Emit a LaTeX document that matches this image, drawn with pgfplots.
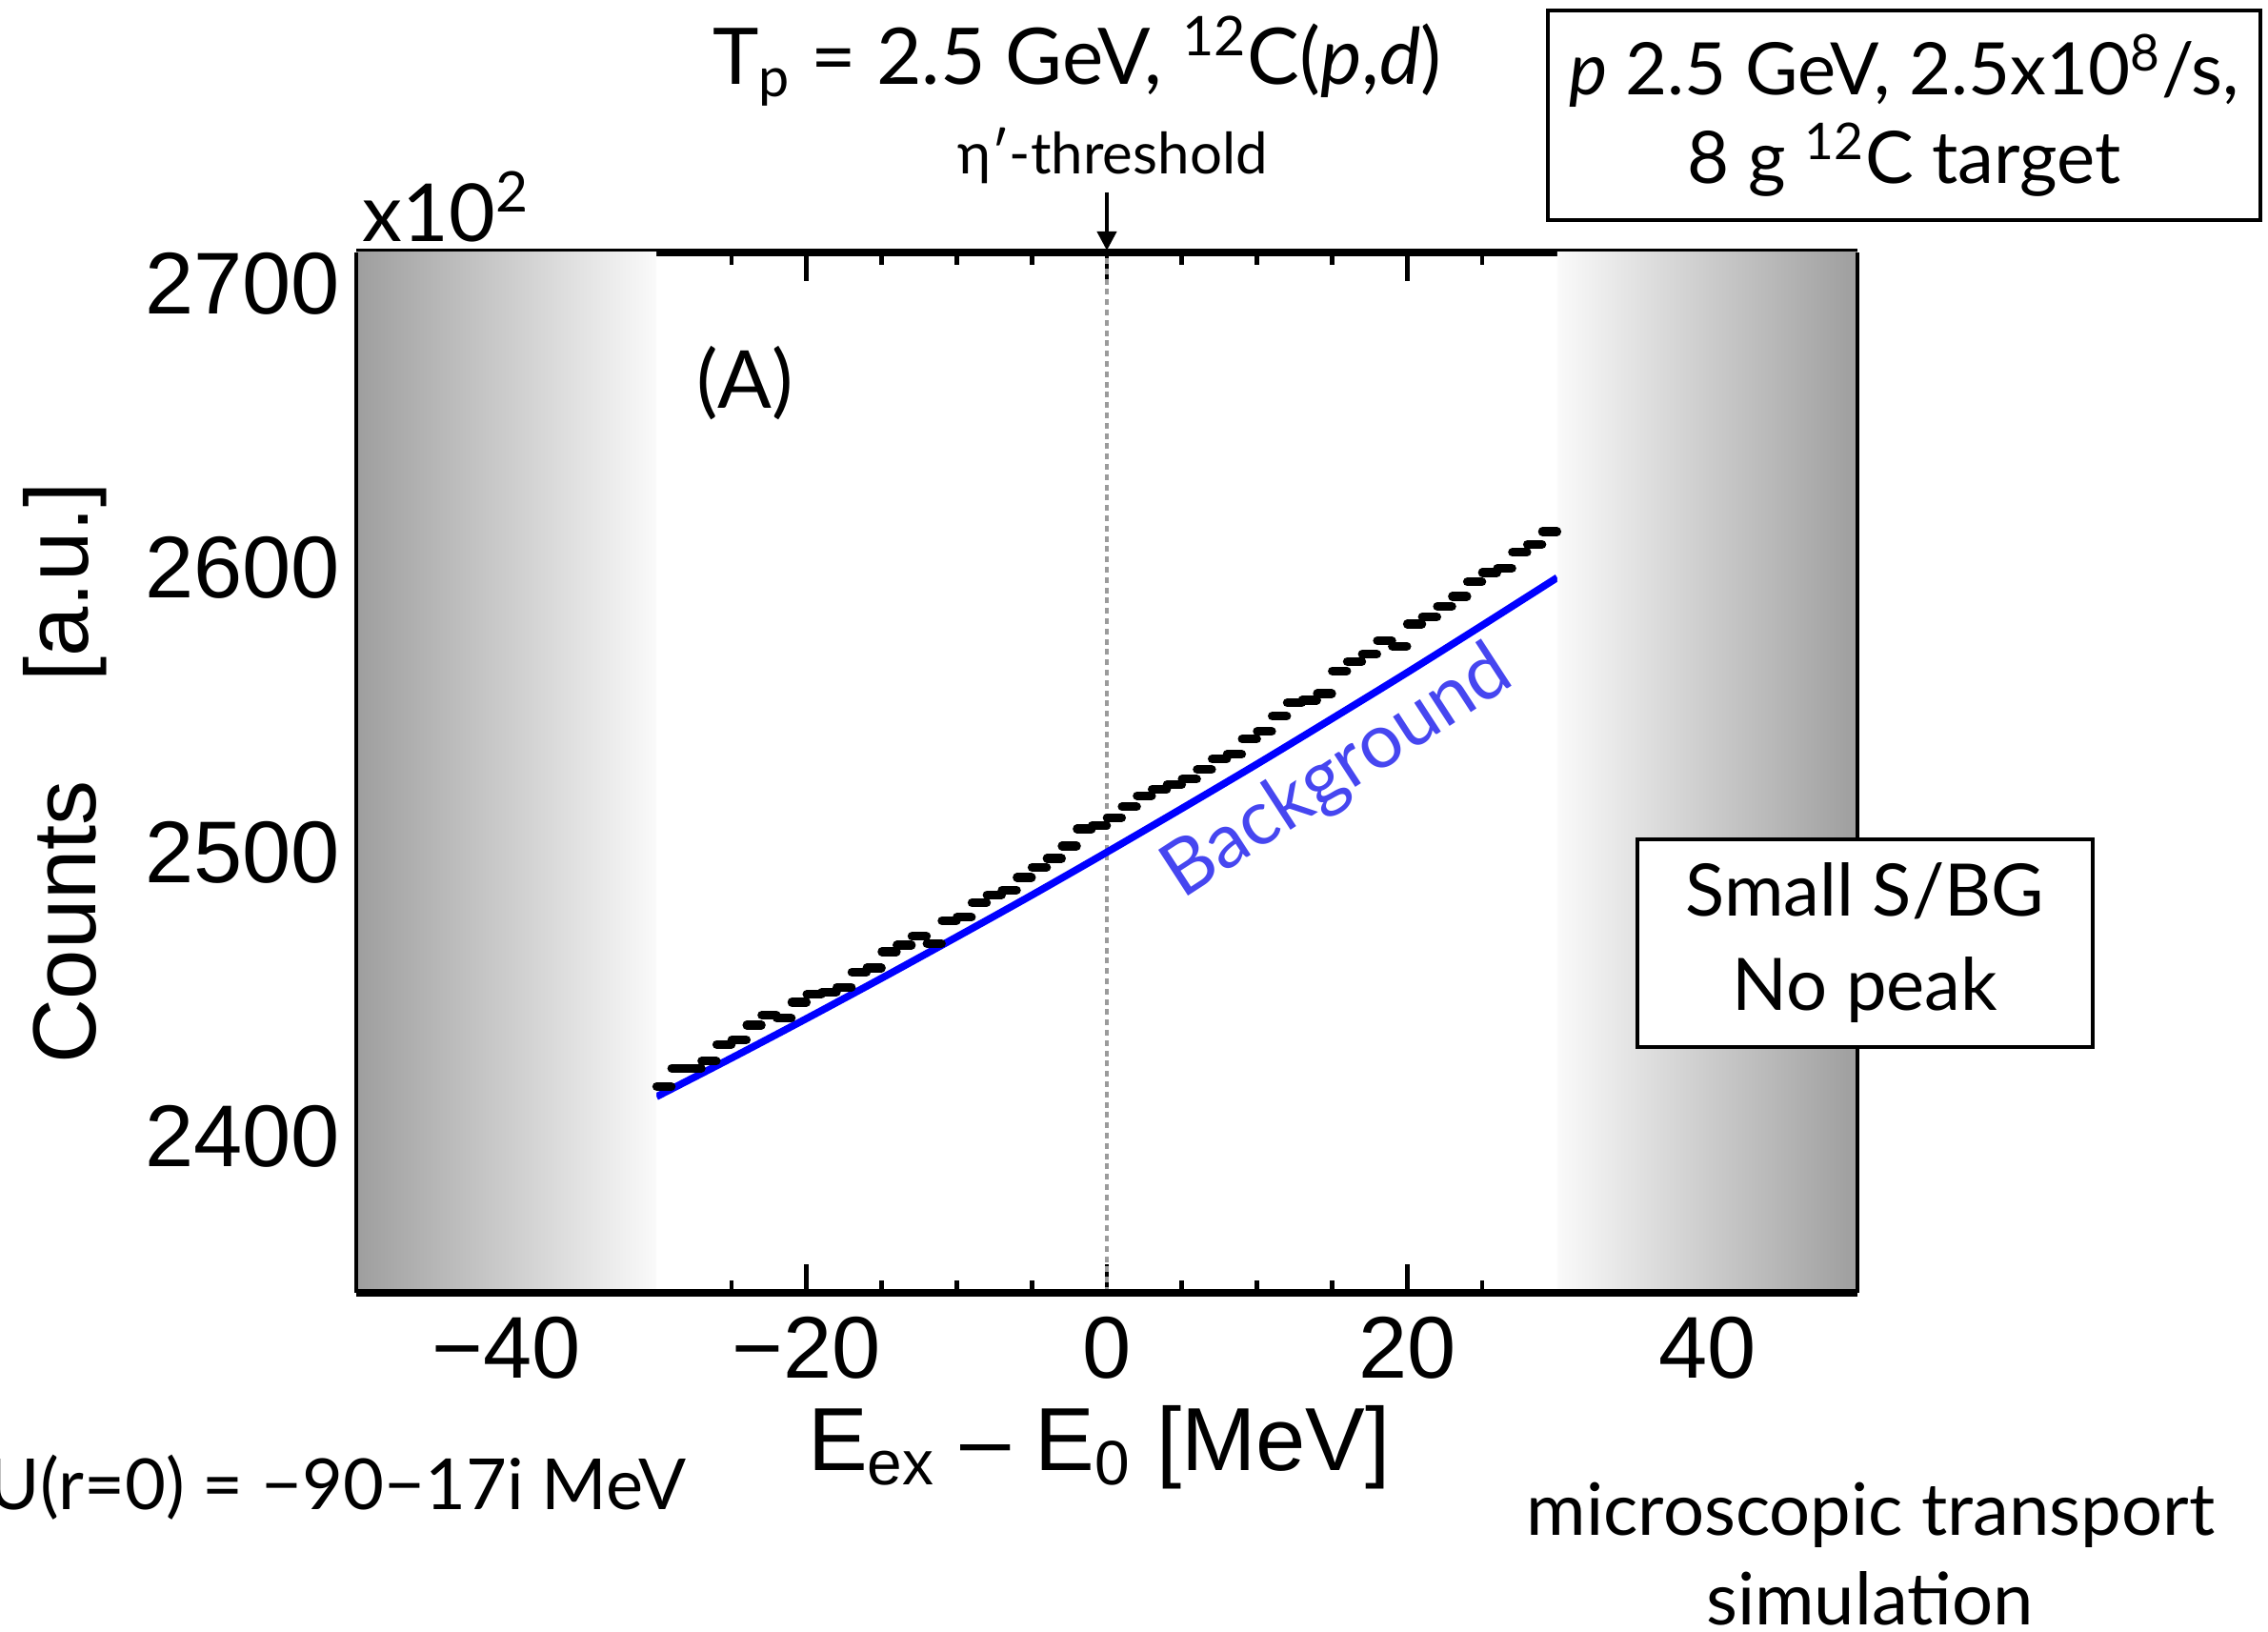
\documentclass[border=0pt]{standalone}
\usepackage{pgfplots}
\pgfplotsset{compat=1.18}
\usetikzlibrary{arrows.meta}
\usepackage{fontspec}
\setmainfont{Lato}
\newfontfamily\arial{Liberation Sans}
\definecolor{edgegray}{RGB}{158,158,158}
\definecolor{bgblue}{RGB}{0,0,255}
\definecolor{txtblue}{RGB}{70,70,240}
\definecolor{dotgray}{RGB}{155,155,155}
\begin{document}
\begin{tikzpicture}
\begin{axis}[
  at={(0pt,0pt)}, anchor=south west,
  scale only axis, width=394pt, height=273pt,
  xmin=-50, xmax=50, ymin=2345, ymax=2711,
  clip=false,
  axis line style={draw=none},
  xtick={-20,0,20}, xticklabels={−20,0,20},
  extra x ticks={-40,40}, extra x tick labels={−40,40},
  extra x tick style={major tick length=0pt},
  minor xtick={-25,-15,-10,-5,5,10,15,25},
  xtick pos=both, tick align=inside,
  ytick={2400,2500,2600,2700}, yticklabels={2400,2500,2600,2700},
  ytick style={draw=none},
  xtick style={black, line width=1.2pt},
  major tick length=7.5pt, minor tick length=3.3pt,
  tick label style={font=\arial\fontsize{23}{23}\selectfont},
  xticklabel style={anchor=north, inner sep=0pt, yshift=-6pt},
  yticklabel style={anchor=east, inner sep=0pt, xshift=-4pt},
]
\draw[dotgray, line width=1pt, dash pattern=on 1.5pt off 1.2pt] (axis cs:0,2345) -- (axis cs:0,2711);
\draw[line width=2.1pt] (rel axis cs:0,1) -- (rel axis cs:1,1);
\addplot[bgblue, line width=1.9pt, smooth] coordinates {
(-30,2414.0) (-25,2427.6) (-20,2441.5) (-15,2455.7) (-10,2470.2) (-5,2484.9)
(0,2500.0) (5,2515.4) (10,2531.0) (15,2547.0) (20,2563.2) (25,2579.8) (30,2596.6)};
\addplot[black, line width=2.3pt, only marks, mark=-, mark size=1.9pt,
  mark options={solid, line width=2.3pt, line cap=round}] coordinates {
(-29.5,2417.6) (-28.5,2424.0) (-27.5,2424.0) (-26.5,2426.5) (-25.5,2432.4)
(-24.5,2434.0) (-23.5,2439.2) (-22.5,2442.7) (-21.5,2441.6) (-20.5,2447.2)
(-19.5,2450.0) (-18.5,2450.8) (-17.5,2452.5) (-16.5,2457.8) (-15.5,2459.3)
(-14.5,2465.0) (-13.5,2467.3) (-12.5,2470.4) (-11.5,2467.9) (-10.5,2475.9)
(-9.5,2477.1) (-8.5,2482.2) (-7.5,2485.0) (-6.5,2486.7) (-5.5,2491.1)
(-4.5,2494.7) (-3.5,2497.8) (-2.5,2502.2) (-1.5,2508.2) (-0.5,2509.3)
(0.5,2512.2) (1.5,2516.0) (2.5,2519.9) (3.5,2522.1) (4.5,2523.8)
(5.5,2525.7) (6.5,2529.1) (7.5,2532.8) (8.5,2534.5) (9.5,2539.8)
(10.5,2542.5) (11.5,2547.9) (12.5,2552.6) (13.5,2553.5) (14.5,2555.8)
(15.5,2563.8) (16.5,2567.1) (17.5,2569.7) (18.5,2574.4) (19.5,2572.5)
(20.5,2580.3) (21.5,2582.8) (22.5,2586.5) (23.5,2590.0) (24.5,2595.1)
(25.5,2598.4) (26.5,2599.9) (27.5,2605.5) (28.5,2608.3) (29.5,2612.8)};
\fill[left color=edgegray, right color=white!98!black] (axis cs:-50,2345) rectangle (axis cs:-30,2711);
\fill[left color=white!98!black, right color=edgegray] (axis cs:30,2345) rectangle (axis cs:50,2711);
\draw[line width=2.1pt] (rel axis cs:0,0) -- (rel axis cs:1,0);
\draw[line width=1.1pt] (rel axis cs:0,0) -- (rel axis cs:0,1);
\draw[line width=1.1pt] (rel axis cs:1,0) -- (rel axis cs:1,1);
\end{axis}
% annotations (pt, origin = axis south west)
\draw[line width=1pt, -{Triangle[length=5pt, width=5pt]}] (197pt,288.75pt) -- (197pt,273.5pt);
\node[font=\fontsize{15}{15}\selectfont] at (198.5pt,298.25pt) {η′-threshold};
\node[font=\fontsize{20.5}{20.5}\selectfont] at (189.25pt,323.25pt) {T\textsubscript{p} = 2.5 GeV, \textsuperscript{12}C(\textit{p},\textit{d})};
\node[font=\fontsize{21}{21}\selectfont, anchor=west, inner sep=0pt] at (1.5pt,285pt) {x10\textsuperscript{2}};
\node[font=\fontsize{21}{21}\selectfont] at (102pt,238.75pt) {(A)};
\node[font=\fontsize{20}{20}\selectfont, text=txtblue, rotate=33] at (257.75pt,136.25pt) {Background};
\node[draw, line width=0.9pt, fill=white, minimum width=187pt, minimum height=55pt, align=center,
  font=\fontsize{19}{23.25}\selectfont] at (406.25pt,309pt)
  {\textit{p} 2.5 GeV, 2.5x10\textsuperscript{8}/s,\\ 8 g \textsuperscript{12}C target};
\node[draw, line width=0.9pt, fill=white, minimum width=119.5pt, minimum height=54.5pt, align=center,
  font=\fontsize{19}{24.75}\selectfont] at (396pt,91.75pt)
  {Small S/BG\\ No peak};
\node[font=\arial\fontsize{23.5}{23.5}\selectfont, rotate=90] at (-76.5pt,97.25pt) {Counts};
\node[font=\arial\fontsize{23.5}{23.5}\selectfont, rotate=90] at (-76.5pt,186.5pt) {[a.u.]};
\node[font=\arial\fontsize{23.5}{23.5}\selectfont] at (195pt,-40.5pt) {E\textsubscript{ex} – E\textsubscript{0} [MeV]};
\node[font=\fontsize{18.5}{18.5}\selectfont, anchor=east, inner sep=0pt] at (86.75pt,-51pt) {U(r=0) = −90−17i MeV};
\node[font=\fontsize{19}{19}\selectfont] at (397.5pt,-58.25pt) {microscopic transport};
\node[font=\fontsize{19}{19}\selectfont] at (397.25pt,-80.25pt) {simulation};
\pgfresetboundingbox
\path[use as bounding box] (-93.5pt,-89pt) rectangle (501.75pt,339.25pt);
\end{tikzpicture}
\end{document}
